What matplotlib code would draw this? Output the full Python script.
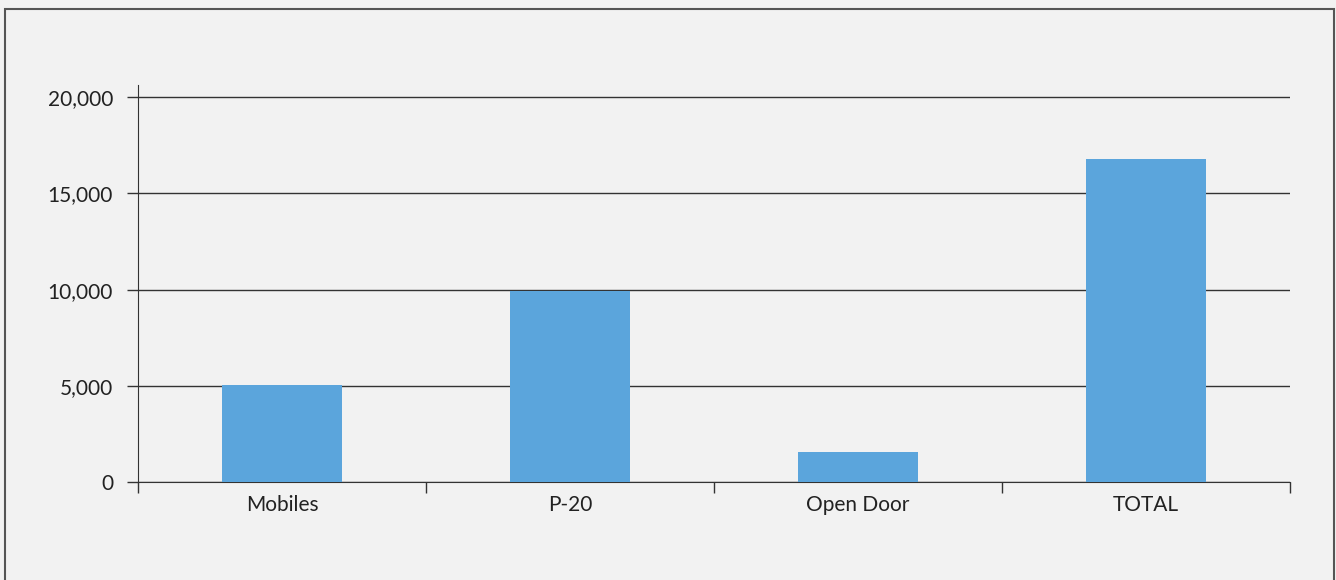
import matplotlib.pyplot as plt
from matplotlib.patches import Rectangle
from matplotlib.ticker import FuncFormatter
import numpy as np

# data
categories = ['Mobiles', 'P-20', 'Open Door', 'TOTAL']
values = [5050, 9950, 1580, 16800]
yticks = [0, 5000, 10000, 15000, 20000]

plt.rcParams['font.family'] = ['Lato', 'DejaVu Sans']

fig = plt.figure(figsize=(13.36, 5.8), dpi=100)
fig.patch.set_facecolor('#f2f2f2')
# outer frame
fig.patches.append(Rectangle((5 / 1336, -0.05), 1329 / 1336, 1.05 - 9 / 580,
                             transform=fig.transFigure, fill=False,
                             edgecolor='#555555', linewidth=1.5))

ax = fig.add_axes([138 / 1336, 97.7 / 580, 1152 / 1336, 397.3 / 580])
ax.set_facecolor('#f2f2f2')

x = np.arange(len(categories))
ax.bar(x, values, width=0.415, color='#5ba5dc', zorder=3)

ax.set_xlim(-0.5, len(categories) - 0.5)
ax.set_ylim(0, 20620)

ax.set_yticks(yticks)
ax.yaxis.set_major_formatter(FuncFormatter(lambda v, p: f'{int(v):,}'))
ax.set_xticks(x)
ax.set_xticklabels(categories)
ax.set_xticks(np.arange(len(categories) + 1) - 0.5, minor=True)

ax.tick_params(axis='x', which='major', length=0, pad=9, labelsize=15, colors='#222222')
ax.tick_params(axis='x', which='minor', length=8, width=1, color='#333333', direction='out')
ax.tick_params(axis='y', length=8, width=1, color='#333333', pad=10, labelsize=15,
               labelcolor='#222222')

ax.grid(axis='y', color='#333333', linewidth=1, zorder=0)
for s in ['top', 'right']:
    ax.spines[s].set_visible(False)
ax.spines['left'].set_color('#333333')
ax.spines['bottom'].set_color('#333333')

fig.savefig('out.png', dpi=100, facecolor=fig.get_facecolor())
